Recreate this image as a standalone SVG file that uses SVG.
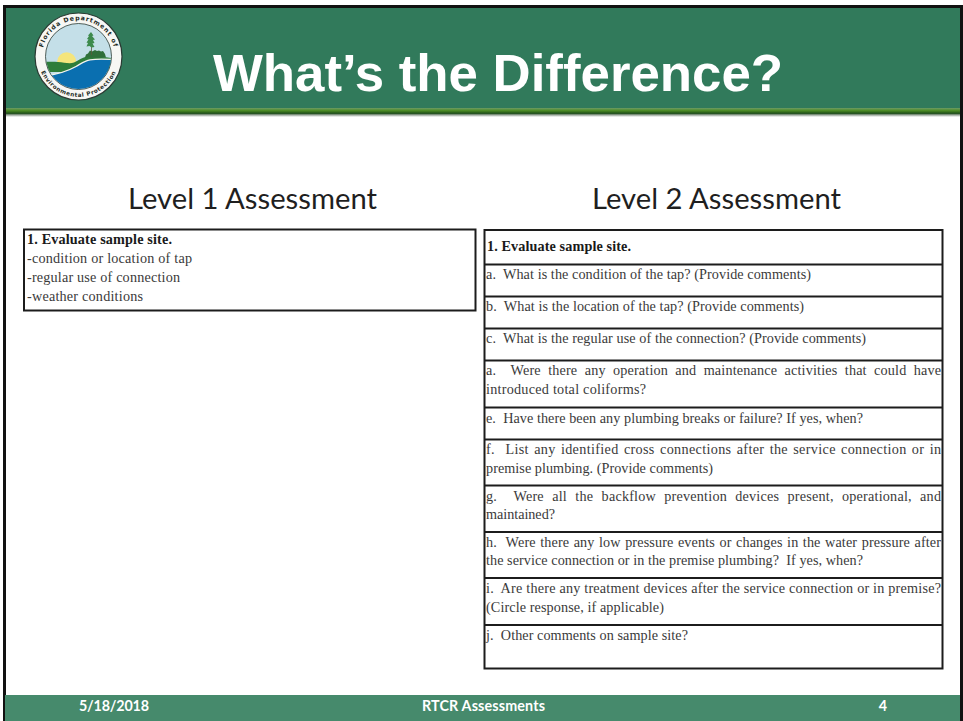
<svg xmlns="http://www.w3.org/2000/svg" width="963" height="721" viewBox="0 0 963 721">
<style>
.h{font-family:"Lato","Open Sans",sans-serif;font-size:28px;fill:#1f1f1f}
.t{font-family:"Liberation Serif",serif;font-size:14.2px;fill:#3a3a3a}
.b{font-weight:bold;fill:#1a1a1a}
.f{font-family:"Lato","Open Sans",sans-serif;font-size:14.300px;font-weight:bold;fill:#fff}
.box{fill:#fff;stroke:#1c1c1c;stroke-width:2}
.rule{stroke:#1c1c1c;stroke-width:2}
.lt{font-family:"DejaVu Sans",sans-serif;font-size:6.200px;font-weight:bold;fill:#1c2a24;letter-spacing:.9px}
.lb{font-family:"DejaVu Sans",sans-serif;font-size:5.700px;font-weight:bold;fill:#1c2a24;letter-spacing:.55px}
</style>
<defs>
<linearGradient id="strip" x1="0" y1="0" x2="0" y2="1"><stop offset="0" stop-color="#6d9c66"/><stop offset=".3" stop-color="#4b8a22"/><stop offset=".6" stop-color="#1f4f1a"/><stop offset=".75" stop-color="#8d9a8d"/><stop offset="1" stop-color="#fff"/></linearGradient>
<clipPath id="inner"><circle cx="78.500" cy="56.500" r="32.500"/></clipPath>
<path id="arcTop" d="M42.600 50A36.500 36.500 0 0 1 114.400 50"/>
<path id="arcBot" d="M38.500 50A40.500 40.500 0 1 0 118.500 50"/>
</defs>
<rect width="963" height="721" fill="#fff"/>
<g id="header">
<rect x="5" y="7" width="955" height="102" fill="#317a5b"/>
<rect x="5" y="108" width="955" height="9" fill="url(#strip)"/>
<text x="213" y="91" font-family="Liberation Sans,sans-serif" font-size="52.500" font-weight="bold" fill="#fff" textLength="570" lengthAdjust="spacingAndGlyphs">What’s the Difference?</text>
</g>
<g id="logo">
<circle cx="78.500" cy="56.500" r="43.500" fill="#f7f7f4" stroke="#2a3a33" stroke-width="1.200"/>
<circle cx="78.500" cy="56.500" r="33" fill="#c4dfe8" stroke="#2a3a33" stroke-width=".8"/>
<g clip-path="url(#inner)">
<circle cx="66.700" cy="61.700" r="9.500" fill="#f5e57c"/>
<path d="M44 62C50 61.500 54 61.500 58 62C64 62.500 70 64 74 62.500C79 60.500 82 57.500 86 56.800C94 56 103 57 112 58V72H44Z" fill="#2e7d3a"/>
<path d="M46 76C58 74 68 71 76 66.500C82 63 85 60.500 90 59.800C96 59 103 59 112 59.500V92H46Z" fill="#0a6fb0"/>
<path d="M46 76C58 74 68 71 76 66.500C82 63 85 60.500 90 59.800C96 59 103 59 112 59.500" fill="none" stroke="#f4f4ee" stroke-width="1.300"/>
<path d="M85 57.500l1-3 2-1 2-3 2 1 3-1.500 2 1 2-.5 2 1 2-.5 2 3 1 3.500z" fill="#2f6f3a"/>
<path d="M91.500 55V36" stroke="#5a5a3a" stroke-width=".8"/>
<path d="M91 32l2.500 3.500-1.500.5 3 3.500-2 .5 1.500 3-2 .5 2 3.500-3 .5-2-1.500-3 .5 1.500-3.500-1.500-.5 2-3-1.500-.5 2-3-1-.5z" fill="#3d8a4d"/>
</g>
<text class="lt"><textPath href="#arcTop" startOffset="50%" text-anchor="middle">Florida Department of</textPath></text>
<text class="lb"><textPath href="#arcBot" startOffset="50%" text-anchor="middle">Environmental Protection</textPath></text>
</g>
<g id="frame" fill="#111">
<rect x="3" y="5" width="960" height="3"/>
<rect x="3" y="5" width="3" height="716"/>
<rect x="960" y="5" width="3" height="716"/>
</g>
<g id="headings">
<text class="h" x="128" y="209" textLength="249" lengthAdjust="spacingAndGlyphs">Level 1 Assessment</text>
<text class="h" x="592" y="209" textLength="249" lengthAdjust="spacingAndGlyphs">Level 2 Assessment</text>
</g>
<g id="level1">
<rect class="box" x="24" y="229.500" width="451.500" height="81"/>
<text class="t b" x="27" y="244" textLength="145">1. Evaluate sample site.</text>
<text class="t" x="27" y="263" textLength="165">-condition or location of tap</text>
<text class="t" x="27" y="282" textLength="153">-regular use of connection</text>
<text class="t" x="27" y="301" textLength="116">-weather conditions</text>
</g>
<g id="level2">
<rect class="box" x="484.500" y="230" width="458" height="438.500"/>
<path class="rule" d="M484 264.500H943M484 296.500H943M484 328.500H943M484 360.500H943M484 407.500H943M484 439.500H943M484 485.500H943M484 532H943M484 578H943M484 625H943"/>
<text class="t b" x="487" y="251" textLength="144">1. Evaluate sample site.</text>
<text class="t" x="486" y="279" textLength="325" xml:space="preserve">a.  What is the condition of the tap? (Provide comments)</text>
<text class="t" x="486" y="311" textLength="318" xml:space="preserve">b.  What is the location of the tap? (Provide comments)</text>
<text class="t" x="486" y="343" textLength="380" xml:space="preserve">c.  What is the regular use of the connection? (Provide comments)</text>
<text class="t" x="486" y="375" textLength="455" word-spacing="3.6" xml:space="preserve">a.  Were there any operation and maintenance activities that could have</text>
<text class="t" x="486" y="394" textLength="160">introduced total coliforms?</text>
<text class="t" x="486" y="423" textLength="377" xml:space="preserve">e.  Have there been any plumbing breaks or failure? If yes, when?</text>
<text class="t" x="486" y="454" textLength="455" word-spacing="1.4" xml:space="preserve">f.  List any identified cross connections after the service connection or in</text>
<text class="t" x="486" y="473" textLength="227">premise plumbing. (Provide comments)</text>
<text class="t" x="486" y="501" textLength="455" word-spacing="4.6" xml:space="preserve">g.  Were all the backflow prevention devices present, operational, and</text>
<text class="t" x="486" y="519" textLength="69">maintained?</text>
<text class="t" x="486" y="547" textLength="455" word-spacing=".8" xml:space="preserve">h.  Were there any low pressure events or changes in the water pressure after</text>
<text class="t" x="486" y="565" textLength="377" xml:space="preserve">the service connection or in the premise plumbing?  If yes, when?</text>
<text class="t" x="486" y="593" textLength="455" xml:space="preserve">i.  Are there any treatment devices after the service connection or in premise?</text>
<text class="t" x="486" y="612" textLength="178">(Circle response, if applicable)</text>
<text class="t" x="486" y="640" textLength="202" xml:space="preserve">j.  Other comments on sample site?</text>
</g>
<g id="footer">
<rect x="5" y="695" width="955" height="26" fill="#468a6c"/>
<text class="f" x="79" y="711" textLength="70">5/18/2018</text>
<text class="f" x="422" y="711" textLength="123">RTCR Assessments</text>
<text class="f" x="883" y="711" text-anchor="middle">4</text>
</g>
</svg>
